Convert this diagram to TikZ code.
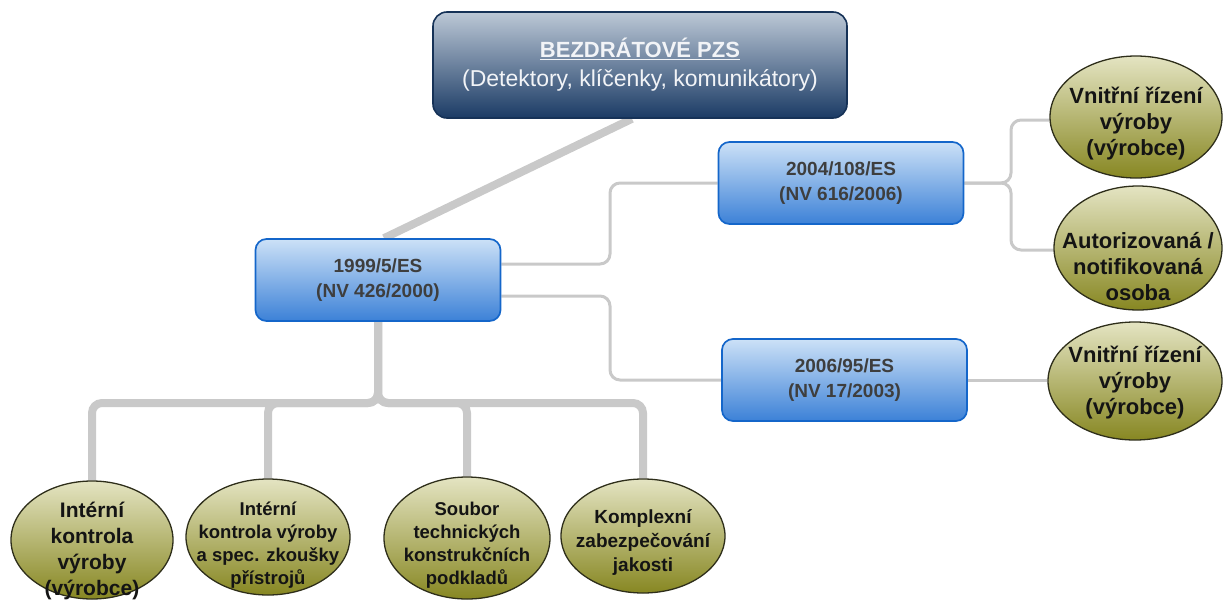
\documentclass[tikz,border=0pt]{standalone}
\usepackage{fontspec}
\setmainfont{Liberation Sans}
\usetikzlibrary{shapes.geometric,backgrounds,calc}

\definecolor{wire}{HTML}{C9C9C9}
\definecolor{navytop}{HTML}{BCC8D6}
\definecolor{navybot}{HTML}{1B3B65}
\definecolor{navyedge}{HTML}{163257}
\definecolor{bluetop}{HTML}{CCE1F7}
\definecolor{bluebot}{HTML}{3C81D7}
\definecolor{blueedge}{HTML}{1466CA}
\definecolor{olivetop}{HTML}{E4E4C2}
\definecolor{olivemid}{HTML}{B4B45E}
\definecolor{olivebot}{HTML}{878722}
\definecolor{oliveedge}{HTML}{2E2E1A}
\definecolor{lawgray}{HTML}{3E3E3E}
\definecolor{methink}{HTML}{141414}
\definecolor{headink}{HTML}{F2F4F7}

\begin{document}
\begin{tikzpicture}[x=1pt,y=-1pt,
  headbox/.style={rounded corners=14pt, draw=navyedge, line width=1.6pt,
    top color=navytop, bottom color=navybot, minimum width=414pt,
    minimum height=106pt, inner sep=0pt, text=headink, align=center,
    font=\fontsize{23}{29}\selectfont},
  lawbox/.style={rounded corners=11pt, draw=blueedge, line width=1.7pt,
    top color=bluetop, bottom color=bluebot, minimum width=245pt,
    minimum height=82pt, inner sep=0pt, text=lawgray, align=center,
    font=\bfseries\fontsize{19}{25}\selectfont},
  method/.style={ellipse, draw=oliveedge, line width=1.3pt, top color=olivetop,
    middle color=olivemid, bottom color=olivebot, inner sep=0pt},
  methtext/.style={text=methink, align=center, inner sep=0pt},
  bigtext/.style={methtext, font=\bfseries\fontsize{22}{26}\selectfont},
  midtext/.style={methtext, font=\bfseries\fontsize{21}{26}\selectfont},
  smalltext/.style={methtext, font=\bfseries\fontsize{18.5}{23}\selectfont},
  trunk/.style={draw=wire, line width=8pt, rounded corners=10pt},
  twig/.style={draw=wire, line width=3pt, rounded corners=10pt}
]
\useasboundingbox (0,0) rectangle (1224,603);

% main heading
\node[headbox] (head) at (640,65)
  {{\bfseries\fontsize{22}{29}\selectfont\underline{BEZDRÁTOVÉ PZS}}\\
   (Detektory, klíčenky, komunikátory)};

% directives
\node[lawbox] (law99) at (378,280) {1999/5/ES\\(NV 426/2000)};
\node[lawbox] (law04) at (841,183) {2004/108/ES\\(NV 616/2006)};
\node[lawbox] (law06) at (844.5,380) {2006/95/ES\\(NV 17/2003)};

% conformity procedures on the right
\node[method, minimum width=172pt, minimum height=122pt] (e1) at (1136,117) {};
\node[method, minimum width=168pt, minimum height=124pt] (e2) at (1138,248) {};
\node[method, minimum width=174pt, minimum height=118pt] (e3) at (1135,381) {};
\node[bigtext] (e1t) at (1136,124) {Vnitřní řízení\\výroby\\(výrobce)};
\node[bigtext] (e2t) at (1138,267) {Autorizovaná /\\notifikovaná\\osoba};
\node[bigtext] (e3t) at (1135,383) {Vnitřní řízení\\výroby\\(výrobce)};

% conformity procedures at the bottom
\node[method, minimum width=162pt, minimum height=118pt] (m1) at (92,540) {};
\node[method, minimum width=164pt, minimum height=116pt] (m2) at (268,537) {};
\node[method, minimum width=166pt, minimum height=122pt] (m3) at (467,538) {};
\node[method, minimum width=164pt, minimum height=114pt] (m4) at (643,536) {};
\node[midtext] (m1t) at (92,551) {Intérní\\kontrola\\výroby\\(výrobce)};
\node[smalltext] (m2t) at (268,545) {Intérní\\kontrola výroby\\a spec. zkoušky\\přístrojů};
\node[smalltext] (m3t) at (467,545) {Soubor\\technických\\konstrukčních\\podkladů};
\node[methtext, font=\bfseries\fontsize{19}{24}\selectfont] (m4t) at (643,542)
  {Komplexní\\zabezpečování\\jakosti};

% connectors
\begin{scope}[on background layer]
  \draw[trunk] ([xshift=-8pt]head.south) -- ([xshift=6pt]law99.north);
  \coordinate (fork) at (378,403);
  \foreach \m in {m1,m2,m3,m4}
    \draw[trunk] (law99.south) -- (fork) -| (\m.north);
  \coordinate (j1up) at (610,225);
  \coordinate (j1dn) at (610,335);
  \draw[twig] ([yshift=16pt]law99.east) -| (j1up) |- (law04.west);
  \draw[twig] ([yshift=-16pt]law99.east) -| (j1dn) |- (law06.west);
  \coordinate (j2up) at (1011,150);
  \coordinate (j2dn) at (1011,215);
  \draw[twig] (law04.east) -| (j2up) |- ([yshift=-3pt]e1.west);
  \draw[twig] (law04.east) -| (j2dn) |- ([yshift=-2pt]e2.west);
  \draw[twig] (law06.east) -- (law06.east -| e3.west);
\end{scope}
\end{tikzpicture}
\end{document}
